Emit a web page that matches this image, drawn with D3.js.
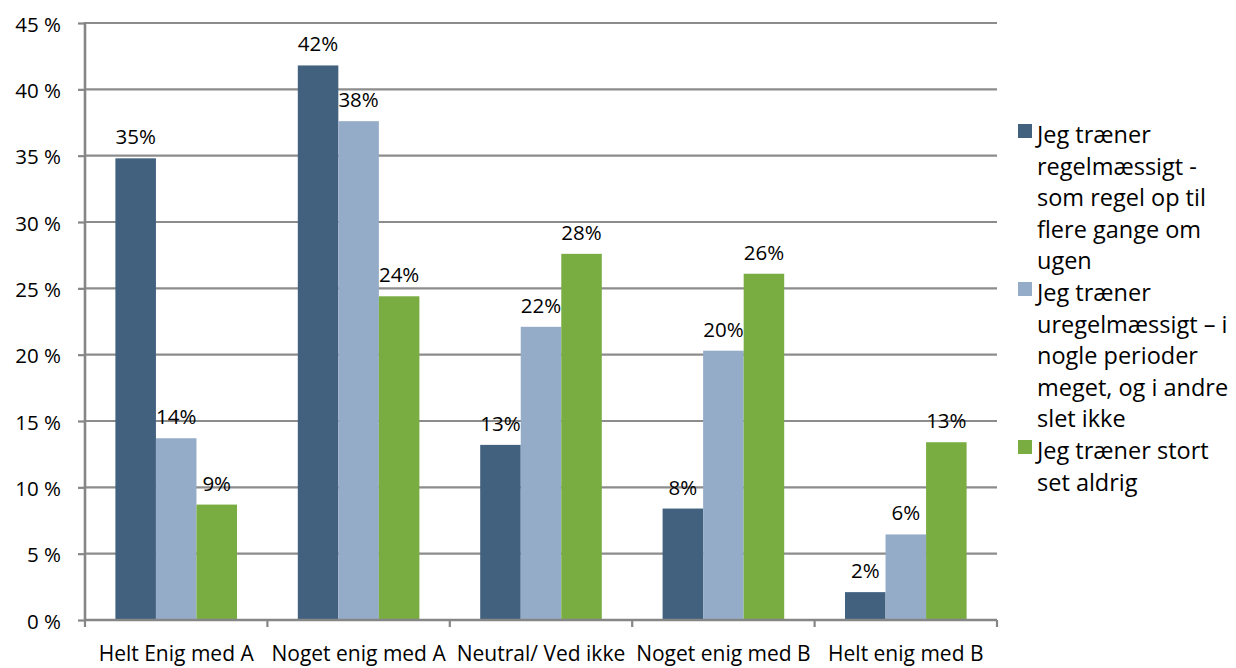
<!DOCTYPE html>
<html><head><meta charset="utf-8">
<script src="https://cdn.jsdelivr.net/npm/d3@7/dist/d3.min.js"></script>
<style>
body{margin:0;background:#fff;}
svg{display:block;font-family:"Open Sans",sans-serif;}
</style></head><body>
<svg id="c" width="1236" height="668"></svg>
<script>
const categories = ["Helt Enig med A","Noget enig med A","Neutral/ Ved ikke","Noget enig med B","Helt enig med B"];
const seriesNames = [
  "Jeg træner regelmæssigt - som regel op til flere gange om ugen",
  "Jeg træner uregelmæssigt – i nogle perioder meget, og i andre slet ikke",
  "Jeg træner stort set aldrig"
];
const legendLines = [
  ["Jeg træner","regelmæssigt -","som regel op til","flere gange om","ugen"],
  ["Jeg træner","uregelmæssigt – i","nogle perioder","meget, og i andre","slet ikke"],
  ["Jeg træner stort","set aldrig"]
];
const regular   = [34.8, 41.8, 13.2, 8.4, 2.1];
const irregular = [13.7, 37.6, 22.1, 20.3, 6.45];
const never     = [8.7, 24.4, 27.6, 26.1, 13.4];
const yTicks = [0,5,10,15,20,25,30,35,40,45];
const colors = ["#41617f","#95acc8","#79ad42"];

const seriesValues = [regular, irregular, never];
const svg = d3.select("#c");
const L = 85, R = 997, T = 23, B = 620;

const y = d3.scaleLinear().domain([0,45]).range([B,T]);
const x0 = d3.scaleBand().domain(categories).range([L,R]).padding(0);
const x1 = d3.scaleBand().domain(d3.range(3)).range([0,x0.bandwidth()]).paddingInner(0).paddingOuter(0.75);

// gridlines
svg.append("g").selectAll("line").data(yTicks.filter(d=>d>0)).join("line")
  .attr("x1",L).attr("x2",R).attr("y1",d=>y(d)).attr("y2",d=>y(d))
  .attr("stroke","#8c8c8c").attr("stroke-width",2.2);

// bars
const groups = svg.append("g").selectAll("g").data(categories).join("g")
  .attr("transform",c=>`translate(${x0(c)},0)`);
groups.each(function(c,i){
  const g = d3.select(this);
  seriesValues.forEach((vals,s)=>{
    g.append("rect").attr("x",x1(s)).attr("width",x1.bandwidth())
      .attr("y",y(vals[i])).attr("height",B-y(vals[i])).attr("fill",colors[s]);
    g.append("text").attr("x",x1(s)+x1.bandwidth()/2).attr("y",y(vals[i])-14)
      .attr("text-anchor","middle").attr("font-size",20.5).attr("fill","#000")
      .text(Math.round(vals[i])+"%");
  });
});

// y axis
const yAxis = d3.axisLeft(y).tickValues(yTicks).tickSize(7).tickPadding(17).tickFormat(d=>d+" %");
const ya = svg.append("g").attr("transform",`translate(${L},0)`).call(yAxis);
ya.select(".domain").attr("stroke","#868686").attr("stroke-width",2.6).attr("d",`M0,${T-1}V${B+1}`);
ya.selectAll(".tick line").attr("stroke","#868686").attr("stroke-width",2.2);
ya.selectAll(".tick text").attr("font-size",20.5).attr("fill","#000").attr("font-family","'Open Sans',sans-serif").attr("dy","0.4em");

// x axis
const xa = svg.append("g").attr("transform",`translate(0,${B})`);
xa.append("line").attr("x1",L).attr("x2",R).attr("stroke","#868686").attr("stroke-width",2.6);
const bounds = categories.map(c=>x0(c)).concat([R]);
xa.selectAll("line.t").data(bounds).join("line").attr("class","t")
  .attr("x1",d=>d).attr("x2",d=>d).attr("y1",0).attr("y2",7).attr("stroke","#868686").attr("stroke-width",2.2);
xa.selectAll("text").data(categories).join("text")
  .attr("x",c=>x0(c)+x0.bandwidth()/2).attr("y",41).attr("text-anchor","middle")
  .attr("font-size",21).attr("fill","#000").text(c=>c);

// legend
const lg = svg.append("g");
let ly = 136;
legendLines.forEach((lines,s)=>{
  lg.append("rect").attr("x",1018).attr("y",ly-12).attr("width",14).attr("height",14).attr("fill",colors[s]);
  lines.forEach((t,k)=>{
    lg.append("text").attr("x",1037).attr("y",ly+7).attr("font-size",23.5).attr("fill","#000").text(t);
    ly += 31.6;
  });
});
</script>
</body></html>
